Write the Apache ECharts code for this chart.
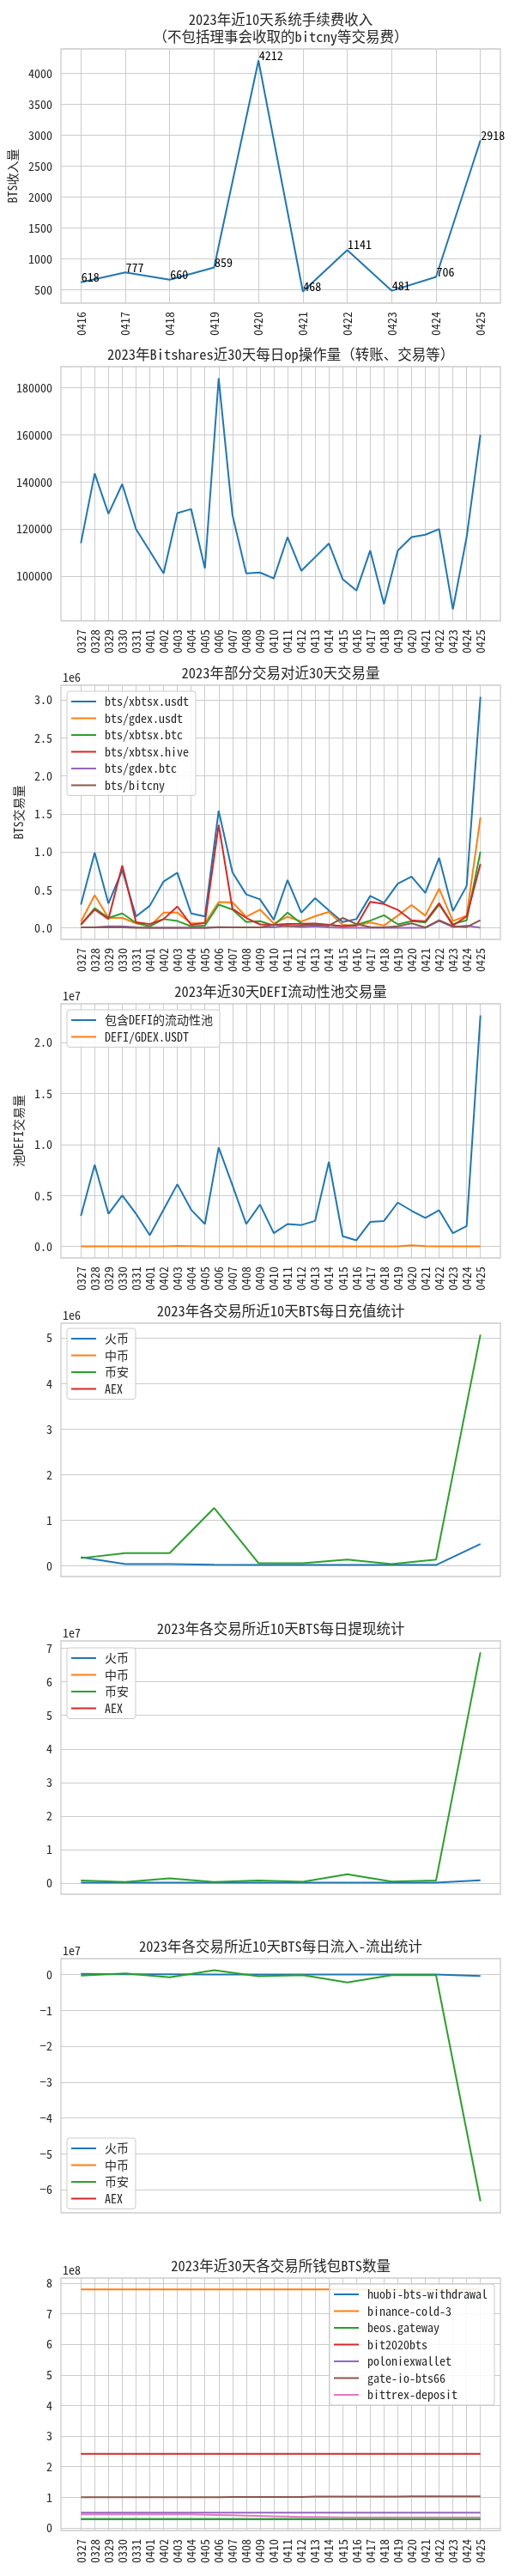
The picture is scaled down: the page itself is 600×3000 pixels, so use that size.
<!DOCTYPE html>
<html><head><meta charset="utf-8">
<script src="https://cdn.jsdelivr.net/npm/echarts@6/dist/echarts.min.js"></script>
<style>html,body{margin:0;padding:0;background:#fff}#c{width:600px;height:3000px}</style>
</head><body><div id="c"></div>
<script>
// ================= DATA =================
// Chart 1: fee income (last 10 days)
const feeDates = ['0416','0417','0418','0419','0420','0421','0422','0423','0424','0425'];
const feeIncome = [618, 777, 660, 859, 4212, 468, 1141, 481, 706, 2918];
const feeTicks = [500, 1000, 1500, 2000, 2500, 3000, 3500, 4000];

// 30-day date labels
const days30 = ['0327','0328','0329','0330','0331','0401','0402','0403','0404','0405','0406','0407','0408','0409','0410',
                '0411','0412','0413','0414','0415','0416','0417','0418','0419','0420','0421','0422','0423','0424','0425'];

// Chart 2: daily op count
const opCount = [114000,143600,126500,139100,120000,110700,101200,126800,128500,103300,184000,126000,101200,101600,99100,
                 116600,102300,108100,113900,98800,93900,110900,88100,110900,116600,117600,120000,86000,116600,160000];
const opTicks = [100000, 120000, 140000, 160000, 180000];

// Chart 3: pair volumes (BTS)
const pairNames = ['bts/xbtsx.usdt','bts/gdex.usdt','bts/xbtsx.btc','bts/xbtsx.hive','bts/gdex.btc','bts/bitcny'];
const volXbtsxUsdt = [0.305e6,0.99e6,0.32e6,0.76e6,0.15e6,0.29e6,0.61e6,0.725e6,0.19e6,0.15e6,1.54e6,0.73e6,0.44e6,0.375e6,0.107e6,
                      0.63e6,0.2e6,0.39e6,0.23e6,0.076e6,0.115e6,0.42e6,0.33e6,0.58e6,0.675e6,0.46e6,0.92e6,0.22e6,0.55e6,3.04e6];
const volGdexUsdt = [0.08e6,0.43e6,0.13e6,0.13e6,0.06e6,0.02e6,0.2e6,0.2e6,0.06e6,0.06e6,0.34e6,0.335e6,0.145e6,0.24e6,0.057e6,
                     0.145e6,0.084e6,0.153e6,0.21e6,0.04e6,0.03e6,0.07e6,0.03e6,0.16e6,0.3e6,0.16e6,0.515e6,0.09e6,0.16e6,1.45e6];
const volXbtsxBtc = [0.04e6,0.26e6,0.13e6,0.19e6,0.065e6,0.02e6,0.115e6,0.09e6,0.02e6,0.03e6,0.305e6,0.24e6,0.076e6,0.088e6,0.03e6,
                     0.2e6,0.057e6,0.03e6,0.04e6,0.02e6,0.04e6,0.095e6,0.165e6,0.046e6,0.088e6,0.07e6,0.305e6,0.05e6,0.1e6,1.0e6];
const volXbtsxHive = [0.045e6,0.24e6,0.115e6,0.82e6,0.075e6,0.05e6,0.115e6,0.28e6,0.04e6,0.065e6,1.355e6,0.25e6,0.13e6,0.046e6,0.04e6,
                      0.05e6,0.053e6,0.057e6,0.04e6,0.02e6,0.03e6,0.343e6,0.313e6,0.237e6,0.1e6,0.084e6,0.325e6,0.03e6,0.15e6,0.84e6];
const volGdexBtc = [0.005e6,0.005e6,0.02e6,0.02e6,0.005e6,0,0,0,0,0,0.005e6,0.005e6,0.005e6,0.005e6,0.005e6,
                    0.03e6,0.01e6,0.02e6,0.005e6,0,0,0,0,0,0,0,0.09e6,0.01e6,0.03e6,0];
const volBitcny = [0.005e6,0.005e6,0.005e6,0.005e6,0,0,0,0,0,0,0.01e6,0.005e6,0.005e6,0.005e6,0.04e6,
                   0.02e6,0.03e6,0.04e6,0.03e6,0.13e6,0.05e6,0.01e6,0.005e6,0.02e6,0.06e6,0.005e6,0.1e6,0.02e6,0.01e6,0.1e6];
const pairTicks = [0, 0.5e6, 1.0e6, 1.5e6, 2.0e6, 2.5e6, 3.0e6];

// Chart 4: DEFI pools
const defiNames = ['包含DEFI的流动性池','DEFI/GDEX.USDT'];
const defiAllPools = [0.30e7,0.80e7,0.32e7,0.50e7,0.32e7,0.11e7,0.36e7,0.61e7,0.36e7,0.22e7,0.97e7,0.60e7,0.22e7,0.41e7,0.13e7,
                      0.22e7,0.21e7,0.25e7,0.83e7,0.10e7,0.06e7,0.24e7,0.25e7,0.43e7,0.35e7,0.28e7,0.355e7,0.13e7,0.20e7,2.265e7];
const defiGdexUsdt = [0.0005e7,0.0005e7,0.0005e7,0.0005e7,0.0005e7,0.0005e7,0.0005e7,0.005e7,0.004e7,0.0005e7,0.0005e7,0.0005e7,0.0005e7,0.0005e7,0.0005e7,
                      0.0005e7,0.0005e7,0.0005e7,0.0005e7,0.0005e7,0.0005e7,0.0005e7,0.0005e7,0.0005e7,0.012e7,0.003e7,0.0005e7,0.0005e7,0.0005e7,0.0005e7];
const defiTicks = [0, 0.5e7, 1.0e7, 1.5e7, 2.0e7];

// Charts 5-7: exchanges (10 days)
const exNames = ['火币','中币','币安','AEX'];
const depHuobi = [0.19e6,0.04e6,0.04e6,0.025e6,0.02e6,0.02e6,0.02e6,0.02e6,0.02e6,0.48e6];
const depZb = [];
const depBinance = [0.17e6,0.28e6,0.28e6,1.27e6,0.06e6,0.06e6,0.14e6,0.04e6,0.14e6,5.07e6];
const depAex = [];
const depTicks = [0, 1e6, 2e6, 3e6, 4e6, 5e6];

const wdHuobi = [0.005e7,0.005e7,0.005e7,0.005e7,0.005e7,0.005e7,0.005e7,0.005e7,0.005e7,0.08e7];
const wdZb = [];
const wdBinance = [0.07e7,0.025e7,0.135e7,0.025e7,0.07e7,0.035e7,0.26e7,0.04e7,0.07e7,6.88e7];
const wdAex = [];
const wdTicks = [0, 1e7, 2e7, 3e7, 4e7, 5e7, 6e7, 7e7];

const netHuobi = [0.015e7,0.005e7,0.003e7,0.002e7,0.002e7,0.002e7,0.002e7,0.002e7,0.002e7,-0.04e7];
const netZb = [];
const netBinance = [-0.03e7,0.03e7,-0.08e7,0.12e7,-0.05e7,-0.02e7,-0.22e7,-0.02e7,-0.02e7,-6.32e7];
const netAex = [];
const netTicks = [-6e7, -5e7, -4e7, -3e7, -2e7, -1e7, 0];

// Chart 8: wallet balances (30 days)
const walletNames = ['huobi-bts-withdrawal','binance-cold-3','beos.gateway','bit2020bts','poloniexwallet','gate-io-bts66','bittrex-deposit'];
const walHuobi = [0.29e8,0.29e8,0.29e8,0.29e8,0.29e8,0.29e8,0.29e8,0.29e8,0.29e8,0.29e8,0.29e8,0.29e8,0.29e8,0.29e8,0.29e8,
                  0.29e8,0.29e8,0.29e8,0.29e8,0.29e8,0.29e8,0.29e8,0.29e8,0.29e8,0.29e8,0.29e8,0.29e8,0.29e8,0.29e8,0.29e8];
const walBinance = [7.79e8,7.79e8,7.79e8,7.79e8,7.79e8,7.79e8,7.79e8,7.79e8,7.79e8,7.79e8,7.79e8,7.79e8,7.79e8,7.79e8,7.79e8,
                    7.79e8,7.79e8,7.79e8,7.79e8,7.79e8,7.79e8,7.79e8,7.79e8,7.79e8,7.79e8,7.79e8,7.79e8,7.79e8,7.79e8,7.79e8];
const walBeos = [0.29e8,0.29e8,0.29e8,0.29e8,0.29e8,0.29e8,0.29e8,0.29e8,0.29e8,0.29e8,0.29e8,0.29e8,0.29e8,0.29e8,0.29e8,
                 0.29e8,0.29e8,0.29e8,0.29e8,0.29e8,0.29e8,0.29e8,0.29e8,0.29e8,0.29e8,0.29e8,0.29e8,0.29e8,0.29e8,0.29e8];
const walBit2020 = [2.42e8,2.42e8,2.42e8,2.42e8,2.42e8,2.42e8,2.42e8,2.42e8,2.42e8,2.42e8,2.42e8,2.42e8,2.42e8,2.42e8,2.42e8,
                    2.42e8,2.42e8,2.42e8,2.42e8,2.42e8,2.42e8,2.42e8,2.42e8,2.42e8,2.42e8,2.42e8,2.42e8,2.42e8,2.42e8,2.42e8];
const walPoloniex = [0.50e8,0.50e8,0.50e8,0.50e8,0.50e8,0.50e8,0.50e8,0.50e8,0.50e8,0.50e8,0.50e8,0.50e8,0.50e8,0.50e8,0.50e8,
                     0.50e8,0.50e8,0.50e8,0.50e8,0.50e8,0.50e8,0.50e8,0.50e8,0.50e8,0.50e8,0.50e8,0.50e8,0.50e8,0.50e8,0.50e8];
const walGate = [1.00e8,1.00e8,1.00e8,1.00e8,1.00e8,1.00e8,1.00e8,1.00e8,1.00e8,1.00e8,1.00e8,1.01e8,1.01e8,1.01e8,1.01e8,
                 1.01e8,1.01e8,1.02e8,1.02e8,1.02e8,1.02e8,1.02e8,1.02e8,1.02e8,1.03e8,1.03e8,1.03e8,1.03e8,1.03e8,1.03e8];
const walBittrex = [0.44e8,0.44e8,0.44e8,0.44e8,0.44e8,0.44e8,0.44e8,0.44e8,0.44e8,0.43e8,0.42e8,0.41e8,0.40e8,0.39e8,0.38e8,
                    0.37e8,0.36e8,0.355e8,0.35e8,0.345e8,0.34e8,0.34e8,0.34e8,0.34e8,0.34e8,0.34e8,0.34e8,0.34e8,0.34e8,0.34e8];
const walTicks = [0, 1e8, 2e8, 3e8, 4e8, 5e8, 6e8, 7e8, 8e8];

// ================= STYLE / LAYOUT =================
const FF = "'Noto Sans Mono CJK SC','Noto Sans CJK SC',sans-serif";
const TXT = '#262626', GRIDC = '#cccccc';
const PAL = ['#1f77b4','#ff7f0e','#2ca02c','#d62728','#9467bd','#8c564b','#e377c2'];
const PLOT_LEFT = 71, PLOT_RIGHT = 17, PLOT_CX = 327;

const option = {animation:false, backgroundColor:'#fff', grid:[], xAxis:[], yAxis:[], series:[], legend:[], graphic:{elements:[]}};

function minusFmt(s){ return s.replace('-', '\u2212'); }

function addPanel(p){
  const i = option.grid.length;
  option.grid.push({left:PLOT_LEFT, right:PLOT_RIGHT, top:p.top, height:p.height, show:true,
    borderColor:GRIDC, borderWidth:1.3, backgroundColor:'#fff'});
  const n = p.n;
  const idx = Array.from({length:n}, (_, k) => k);
  option.xAxis.push({gridIndex:i, type:'value', min:-(n-1)*0.05, max:(n-1)*1.05,
    axisLine:{show:false}, axisTick:{show:false, customValues:idx},
    axisLabel:{show:!!p.xLabels, customValues:idx, formatter:v => p.xLabels ? p.xLabels[Math.round(v)] : '',
      rotate:90, margin:10, fontSize:14, color:TXT, fontFamily:FF},
    splitLine:{show:!!p.xGrid, lineStyle:{color:GRIDC, width:1}}});
  let lo = Infinity, hi = -Infinity;
  p.series.forEach(s => s.data.forEach(v => { if (v != null) { lo = Math.min(lo, v); hi = Math.max(hi, v); } }));
  const m = (hi - lo) * 0.05;
  option.yAxis.push({gridIndex:i, type:'value', min:lo - m, max:hi + m,
    axisLine:{show:false}, axisTick:{show:false, customValues:p.yTicks},
    axisLabel:{customValues:p.yTicks, formatter:p.yFmt, margin:10, fontSize:14, color:TXT, fontFamily:FF,
      showMinLabel:true, showMaxLabel:true},
    splitLine:{show:true, lineStyle:{color:GRIDC, width:1}},
    name:p.yName || '', nameLocation:'middle', nameGap:p.nameGap || 40,
    nameTextStyle:{fontSize:14, color:TXT, fontFamily:FF}});
  p.series.forEach((s, k) => {
    const col = PAL[k];
    option.series.push({type:'line', name:s.name || '', xAxisIndex:i, yAxisIndex:i,
      data:s.data.map((v, j) => [j, v]),
      symbol:p.labels ? 'circle' : 'none', symbolSize:1, showSymbol:!!p.labels,
      color:col, lineStyle:{width:2, color:col}, itemStyle:{color:col},
      label:p.labels ? {show:true, position:'right', distance:0, offset:[0,-6],
        formatter:o => String(o.value[1]), fontSize:14, color:'#000', fontFamily:FF} : {show:false},
      emphasis:{disabled:true}, silent:true, z:2});
  });
  // title
  option.graphic.elements.push({type:'text', x:PLOT_CX, y:p.titleY, silent:true,
    style:{text:p.title, fill:TXT, font:'16.5px ' + FF, textAlign:'center', align:'center',
      textVerticalAlign:'middle', verticalAlign:'middle', lineHeight:20}});
  if (p.offsetText) {
    option.graphic.elements.push({type:'text', x:73, y:p.top - 9, silent:true,
      style:{text:p.offsetText, fill:TXT, font:'14px ' + FF, textAlign:'left', align:'left',
        textVerticalAlign:'middle', verticalAlign:'middle'}});
  }
  if (p.legend) {
    option.legend.push(Object.assign({data:p.series.map(s => s.name), orient:'vertical', icon:'rect',
      itemWidth:29, itemHeight:2, itemGap:5.5, padding:[5,8,5,5],
      backgroundColor:'rgba(255,255,255,0.85)', borderColor:GRIDC, borderWidth:1, borderRadius:3,
      selectedMode:false, textStyle:{fontSize:14, color:TXT, fontFamily:FF, padding:[0,0,0,5]}}, p.legend));
  }
}

const fmtScaled = (scale, dec) => v => minusFmt((v / scale).toFixed(dec));

addPanel({top:57, height:296, n:feeDates.length, xLabels:feeDates, xGrid:true,
  title:'2023年近10天系统手续费收入\n（不包括理事会收取的bitcny等交易费）', titleY:33,
  yTicks:feeTicks, yFmt:v => String(Math.round(v)), yName:'BTS收入量', nameGap:43, labels:true,
  series:[{name:'收入', data:feeIncome}]});

addPanel({top:427, height:296, n:days30.length, xLabels:days30, xGrid:true,
  title:'2023年Bitshares近30天每日op操作量（转账、交易等）', titleY:413,
  yTicks:opTicks, yFmt:v => String(Math.round(v)),
  series:[{name:'op', data:opCount}]});

addPanel({top:798, height:296, n:days30.length, xLabels:days30, xGrid:true,
  title:'2023年部分交易对近30天交易量', titleY:784, offsetText:'1e6',
  yTicks:pairTicks, yFmt:fmtScaled(1e6, 1), yName:'BTS交易量', nameGap:36,
  series:[{name:pairNames[0], data:volXbtsxUsdt},{name:pairNames[1], data:volGdexUsdt},{name:pairNames[2], data:volXbtsxBtc},
          {name:pairNames[3], data:volXbtsxHive},{name:pairNames[4], data:volGdexBtc},{name:pairNames[5], data:volBitcny}],
  legend:{left:78, top:805}});

addPanel({top:1169, height:296, n:days30.length, xLabels:days30, xGrid:true,
  title:'2023年近30天DEFI流动性池交易量', titleY:1155, offsetText:'1e7',
  yTicks:defiTicks, yFmt:fmtScaled(1e7, 1), yName:'池DEFI交易量', nameGap:36,
  series:[{name:defiNames[0], data:defiAllPools},{name:defiNames[1], data:defiGdexUsdt}],
  legend:{left:78, top:1176}});

addPanel({top:1541, height:295, n:10, xGrid:false,
  title:'2023年各交易所近10天BTS每日充值统计', titleY:1527, offsetText:'1e6',
  yTicks:depTicks, yFmt:fmtScaled(1e6, 0),
  series:[{name:exNames[0], data:depHuobi},{name:exNames[1], data:depZb},{name:exNames[2], data:depBinance},{name:exNames[3], data:depAex}],
  legend:{left:78, top:1547}});

addPanel({top:1911, height:295, n:10, xGrid:false,
  title:'2023年各交易所近10天BTS每日提现统计', titleY:1897, offsetText:'1e7',
  yTicks:wdTicks, yFmt:fmtScaled(1e7, 0),
  series:[{name:exNames[0], data:wdHuobi},{name:exNames[1], data:wdZb},{name:exNames[2], data:wdBinance},{name:exNames[3], data:wdAex}],
  legend:{left:78, top:1919}});

addPanel({top:2281, height:296, n:10, xGrid:false,
  title:'2023年各交易所近10天BTS每日流入-流出统计', titleY:2267, offsetText:'1e7',
  yTicks:netTicks, yFmt:fmtScaled(1e7, 0),
  series:[{name:exNames[0], data:netHuobi},{name:exNames[1], data:netZb},{name:exNames[2], data:netBinance},{name:exNames[3], data:netAex}],
  legend:{left:78, top:2490}});

addPanel({top:2653, height:294, n:days30.length, xLabels:days30, xGrid:true,
  title:'2023年近30天各交易所钱包BTS数量', titleY:2639, offsetText:'1e8',
  yTicks:walTicks, yFmt:fmtScaled(1e8, 0),
  series:[{name:walletNames[0], data:walHuobi},{name:walletNames[1], data:walBinance},{name:walletNames[2], data:walBeos},
          {name:walletNames[3], data:walBit2020},{name:walletNames[4], data:walPoloniex},{name:walletNames[5], data:walGate},
          {name:walletNames[6], data:walBittrex}],
  legend:{right:24, top:2660}});

const chart = echarts.init(document.getElementById('c'), null, {renderer:'canvas'});
chart.setOption(option);
</script></body></html>
